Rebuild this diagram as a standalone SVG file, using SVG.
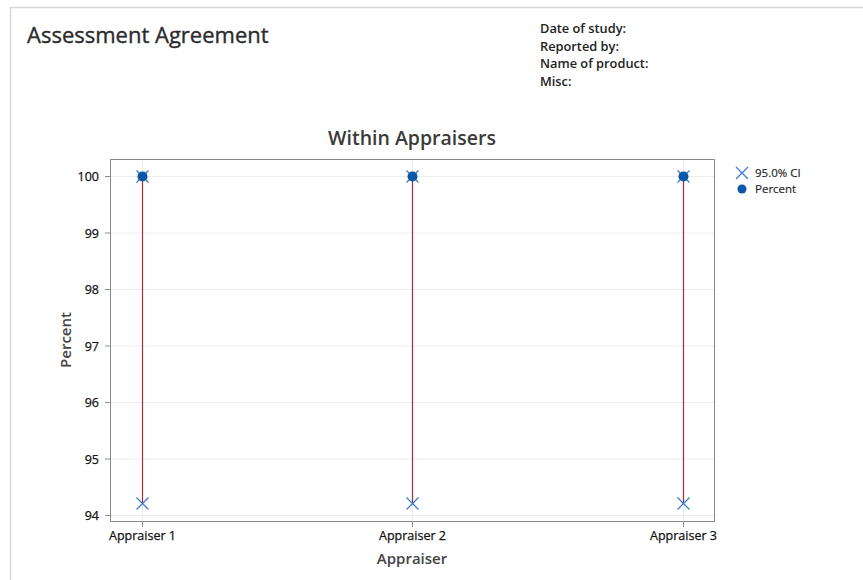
<svg xmlns="http://www.w3.org/2000/svg" width="863" height="580" viewBox="0 0 863 580">
  <defs>
    <style>
      text { font-family: "Open Sans", "Noto Sans", "Liberation Sans", sans-serif; fill: #222; }
      .title { font-size: 22px; fill: #2b2b2b; stroke: #2b2b2b; stroke-width: 0.35px; }
      .meta { font-size: 12.8px; font-weight: 600; fill: #222; }
      .chart-title { font-size: 19.5px; font-weight: 600; fill: #3a3a3a; }
      .tick { font-size: 12.5px; fill: #111; stroke: #111; stroke-width: 0.25px; }
      .axis-title { font-size: 15px; font-weight: 600; fill: #444; }
      .legend { font-size: 11.5px; fill: #222; stroke: #222; stroke-width: 0.15px; }
      .grid { stroke: #ececec; stroke-width: 1; fill: none; }
      .axis { stroke: #8a8a8a; stroke-width: 1; fill: none; }
      .ci { stroke: #9c2f3a; stroke-width: 1.2; }
      .cross { stroke: #3a78c9; stroke-width: 1.2; fill: none; }
      .dot { fill: #0a57a8; }
    </style>
    <g id="xmark"><path class="cross" d="M-6,-6 L6,6 M-6,6 L6,-6"/></g>
  </defs>

  <rect x="0" y="0" width="863" height="580" fill="#ffffff"/>
  <!-- page frame -->
  <path d="M10.5,580 L10.5,7.5 L863,7.5" stroke="#d8d8d8" stroke-width="1.5" fill="none"/>

  <g id="header">
    <text class="title" x="27" y="43">Assessment Agreement</text>
    <text class="meta" x="540" y="33">Date of study:</text>
    <text class="meta" x="540" y="50.5">Reported by:</text>
    <text class="meta" x="540" y="68">Name of product:</text>
    <text class="meta" x="540" y="85.5">Misc:</text>
  </g>

  <g id="chart">
    <text class="chart-title" x="412" y="145" text-anchor="middle">Within Appraisers</text>

    <!-- gridlines -->
    <g id="grid">
      <path class="grid" d="M110,176.5 H714 M110,233 H714 M110,289.5 H714 M110,346 H714 M110,402.5 H714 M110,459 H714 M110,515.5 H714"/>
      <path class="grid" d="M142.5,159 V521 M412.5,159 V521 M683.5,159 V521"/>
    </g>

    <!-- plot frame and ticks -->
    <rect class="axis" x="110.5" y="159.5" width="604" height="362"/>
    <path class="axis" d="M105,176.5 H110 M105,233 H110 M105,289.5 H110 M105,346 H110 M105,402.5 H110 M105,459 H110 M105,515.5 H110"/>
    <path class="axis" d="M142.5,522 V527 M412.5,522 V527 M683.5,522 V527"/>

    <g id="y-labels" text-anchor="end">
      <text class="tick" x="99" y="181">100</text>
      <text class="tick" x="99" y="237.5">99</text>
      <text class="tick" x="99" y="294">98</text>
      <text class="tick" x="99" y="350.5">97</text>
      <text class="tick" x="99" y="407">96</text>
      <text class="tick" x="99" y="463.5">95</text>
      <text class="tick" x="99" y="520">94</text>
    </g>
    <g id="x-labels" text-anchor="middle">
      <text class="tick" x="142.5" y="540">Appraiser 1</text>
      <text class="tick" x="412.5" y="540">Appraiser 2</text>
      <text class="tick" x="683.5" y="540">Appraiser 3</text>
    </g>

    <text class="axis-title" x="412" y="563.5" text-anchor="middle">Appraiser</text>
    <text class="axis-title" transform="translate(71,340) rotate(-90)" text-anchor="middle">Percent</text>
  </g>

  <!-- confidence interval connectors -->
  <g id="connectors">
    <line class="ci" x1="142.5" y1="176.5" x2="142.5" y2="503.5"/>
    <line class="ci" x1="412.5" y1="176.5" x2="412.5" y2="503.5"/>
    <line class="ci" x1="683.5" y1="176.5" x2="683.5" y2="503.5"/>
  </g>

  <g id="appraiser-1">
    <use href="#xmark" x="142.5" y="176.5"/>
    <use href="#xmark" x="142.5" y="503.5"/>
    <circle class="dot" cx="142.5" cy="176.5" r="5"/>
  </g>
  <g id="appraiser-2">
    <use href="#xmark" x="412.5" y="176.5"/>
    <use href="#xmark" x="412.5" y="503.5"/>
    <circle class="dot" cx="412.5" cy="176.5" r="5"/>
  </g>
  <g id="appraiser-3">
    <use href="#xmark" x="683.5" y="176.5"/>
    <use href="#xmark" x="683.5" y="503.5"/>
    <circle class="dot" cx="683.5" cy="176.5" r="5"/>
  </g>

  <g id="legend">
    <use href="#xmark" x="742" y="173"/>
    <text class="legend" x="755" y="177">95.0% CI</text>
    <circle class="dot" cx="742" cy="189" r="4.5"/>
    <text class="legend" x="755" y="193">Percent</text>
  </g>
</svg>
